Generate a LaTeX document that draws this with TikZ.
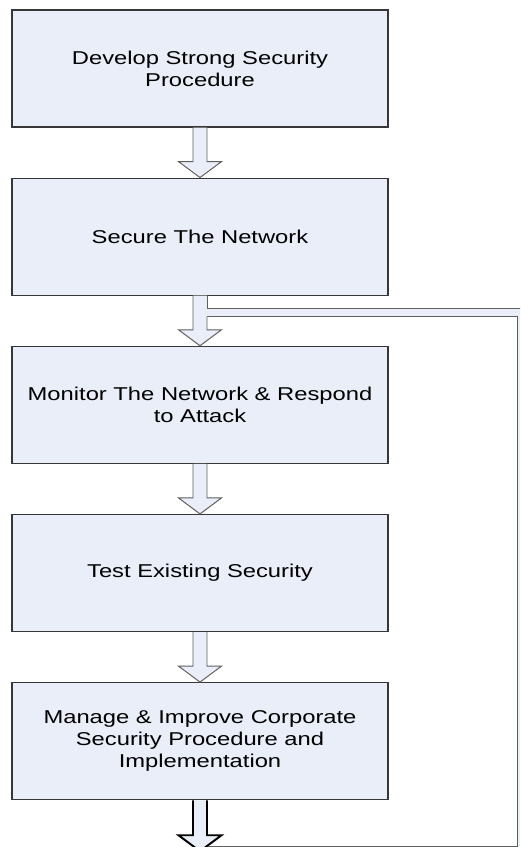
\documentclass[tikz,border=0pt]{standalone}
\usepackage{fontspec}
\setmainfont{Liberation Sans}[FakeStretch=1.28]
\usetikzlibrary{positioning,calc}

\definecolor{boxfill}{RGB}{233,238,248}
\definecolor{boxline}{RGB}{55,55,55}
\definecolor{arrowline}{RGB}{95,95,95}

\tikzset{
  stepbox/.style={draw=boxline, fill=boxfill, line width=0.8pt,
    minimum width=9.4cm, minimum height=2.925cm, align=center,
    font=\fontsize{13.2}{15.65}\selectfont},
  flowarrow/.style={draw=arrowline, line width=0.7pt, line join=miter},
  lastarrow/.style={draw=black, line width=1.4pt},
}

% block arrow from point #2 down to tip #3
\newcommand{\blockarrow}[3][]{%
  \fill[boxfill] ($(#2)+(-7,0)$) -- ($(#3)+(-7,-16)$) -- ($(#3)+(-21.5,-16)$)
    -- (#3) -- ($(#3)+(21.5,-16)$) -- ($(#3)+(7,-16)$) -- ($(#2)+(7,0)$) -- cycle;
  \draw[flowarrow,#1] ($(#2)+(-7,0)$) -- ($(#3)+(-7,-16)$) -- ($(#3)+(-21.5,-16)$)
    -- (#3) -- ($(#3)+(21.5,-16)$) -- ($(#3)+(7,-16)$) -- ($(#2)+(7,0)$);
}

\begin{document}
\begin{tikzpicture}[x=0.025cm, y=-0.025cm, node distance=1.25cm]
  \useasboundingbox (0,0) rectangle (520,847);
  \clip (0,0) rectangle (520,847);

  \node (b1) [stepbox] at (200,68.5) {Develop Strong Security\\Procedure};
  \node (b2) [stepbox, below=of b1] {Secure The Network};
  \node (b3) [stepbox, below=of b2] {Monitor The Network \& Respond\\to Attack};
  \node (b4) [stepbox, below=of b3] {Test Existing Security};
  \node (b5) [stepbox, below=of b4] {Manage \& Improve Corporate\\Security Procedure and\\Implementation};
  \coordinate (exit) at ($(b5.south)+(0,51)$);

  % feedback loop
  \coordinate (fork) at ($(b2.south)+(7,13)$);
  \coordinate (loopne) at ($(fork)+(310,8)$);
  \coordinate (loopse) at ($(loopne |- exit)+(0,-5)$);
  \fill[boxfill] (fork) -- ++(325,0) -- ++(0,560) -- ($(exit)+(7,20)$)
    -- ($(exit)+(7,-5)$) -- (loopse) -- (loopne) -- ($(fork)+(0,8)$) -- cycle;
  \draw[flowarrow] (fork) -- ++(325,0);
  \draw[flowarrow] ($(fork)+(0,8)$) -- (loopne) -- (loopse) -- ($(exit)+(7,-5)$);

  \blockarrow{b1.south}{b2.north}
  % arrow joined to the loop
  \fill[boxfill] ($(b2.south)+(-7,0)$) -- ($(b3.north)+(-7,-16)$) -- ($(b3.north)+(-21.5,-16)$)
    -- (b3.north) -- ($(b3.north)+(21.5,-16)$) -- ($(b3.north)+(7,-16)$) -- ($(b2.south)+(7,0)$) -- cycle;
  \draw[flowarrow] ($(b2.south)+(-7,0)$) -- ($(b3.north)+(-7,-16)$) -- ($(b3.north)+(-21.5,-16)$)
    -- (b3.north) -- ($(b3.north)+(21.5,-16)$) -- ($(b3.north)+(7,-16)$) -- ($(fork)+(0,8)$);
  \draw[flowarrow] ($(b2.south)+(7,0)$) -- (fork);
  \blockarrow{b3.south}{b4.north}
  \blockarrow{b4.south}{b5.north}
  \blockarrow[lastarrow]{b5.south}{exit}
\end{tikzpicture}
\end{document}
